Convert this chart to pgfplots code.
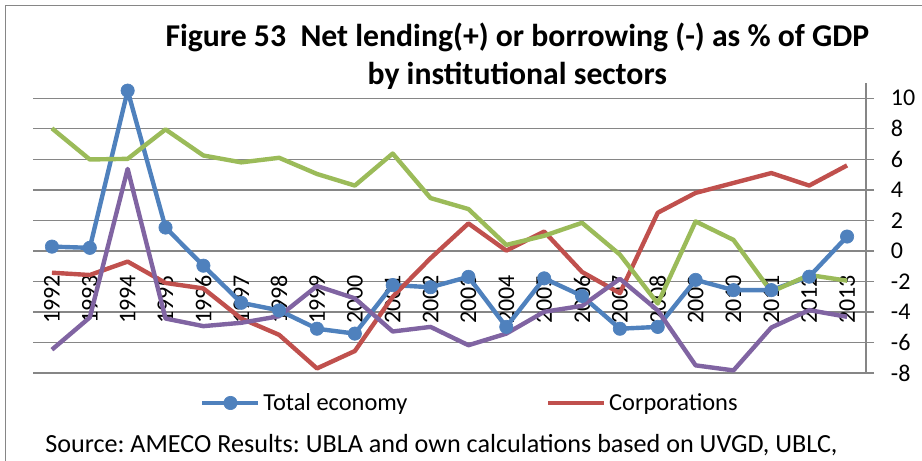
\documentclass[border=0pt]{standalone}
\usepackage{pgfplots}
\pgfplotsset{compat=1.18}
\usepackage{pgfplotstable}
\usepackage{fontspec}
\setmainfont{Carlito}

\definecolor{totblue}{HTML}{4F81BD}
\definecolor{corpred}{HTML}{C0504D}
\definecolor{govgreen}{HTML}{9BBB59}
\definecolor{hhpurple}{HTML}{8064A2}
\definecolor{gridgray}{HTML}{868686}

% net lending(+)/borrowing(-), % of GDP
\pgfplotstableread{
idx year total corp gov hh
0  1992  0.28 -1.43  8.03 -6.47
1  1993  0.20 -1.58  5.99 -4.36
2  1994 10.50 -0.70  6.03  5.37
3  1995  1.53 -2.10  7.96 -4.43
4  1996 -0.97 -2.46  6.25 -4.93
5  1997 -3.40 -4.43  5.80 -4.71
6  1998 -3.90 -5.50  6.10 -4.28
7  1999 -5.10 -7.70  5.04 -2.30
8  2000 -5.42 -6.56  4.28 -3.11
9  2001 -2.24 -3.00  6.38 -5.28
10 2002 -2.38 -0.48  3.46 -4.98
11 2003 -1.70  1.80  2.74 -6.18
12 2004 -4.98  0.02  0.39 -5.42
13 2005 -1.80  1.27  0.99 -3.99
14 2006 -2.95 -1.38  1.84 -3.60
15 2007 -5.10 -2.77 -0.24 -1.83
16 2008 -4.98  2.50 -3.45 -3.90
17 2009 -1.90  3.80  1.93 -7.50
18 2010 -2.57  4.45  0.72 -7.83
19 2011 -2.57  5.10 -2.68 -5.02
20 2012 -1.69  4.28 -1.58 -3.88
21 2013  0.94  5.60 -1.95 -4.32
}\sectors

\begin{document}
\frenchspacing
\begin{tikzpicture}
\useasboundingbox (0,0) rectangle (691.5pt,345.75pt);
% chart frame (cut off at right and bottom)
\draw[gridgray, line width=0.75pt] (3.75pt,-20pt) -- (3.75pt,341.25pt) -- (720pt,341.25pt);

\node[anchor=base, font=\bfseries\fontsize{23.8}{28}\selectfont] at (388pt,310.5pt)
  {Figure 53\ \ Net lending(+) or borrowing (-) as \% of GDP};
\node[anchor=base, font=\bfseries\fontsize{23.8}{28}\selectfont] at (388pt,282pt)
  {by institutional sectors};

\begin{axis}[
    at={(24.75pt,66pt)}, anchor=south west,
    scale only axis,
    width=624.75pt, height=217.5pt,
    xmin=-0.5, xmax=21.5,
    ymin=-8, ymax=11,
    axis x line=middle,
    axis y line=right,
    axis line style={-, gridgray, line width=1pt},
    inner axis line style={-},
    outer axis line style={-},
    xtick={0,...,21},
    xticklabels={1992,1993,1994,1995,1996,1997,1998,1999,2000,2001,2002,2003,2004,2005,2006,2007,2008,2009,2010,2011,2012,2013},
    x tick style={draw=none},
    extra x ticks={-0.5,0.5,...,21.5},
    extra x tick labels={},
    extra x tick style={tick style={draw=gridgray, line width=1pt}, xtick align=outside, major tick length=5.5pt},
    xticklabel style={rotate=90, anchor=east, inner xsep=15pt, font=\fontsize{18}{21}\selectfont},
    ytick={-8,-6,...,10},
    yticklabels={-8,-6,-4,-2,0,2,4,6,8,10},
    ytick align=outside,
    y tick style={gridgray, line width=1pt},
    major tick length=6pt,
    yticklabel style={anchor=west, inner sep=0pt, xshift=12.5pt, font=\fontsize{18}{21}\selectfont},
    ymajorgrids,
    grid style={gridgray, line width=1pt},
    legend columns=2,
    legend style={at={(0.2005,-0.1034)}, anchor=west, draw=none, fill=none,
        inner sep=0pt, font=\fontsize{18.3}{21}\selectfont,
        /tikz/every even column/.append style={column sep=102pt}},
    legend cell align=left,
    legend image code/.code={
        \draw[mark repeat=2, mark phase=2, #1] plot coordinates {(0pt,0pt) (21pt,0pt) (42pt,0pt)};
    },
    every axis plot/.append style={line width=3.3pt, line join=round},
]
\addplot[totblue, mark=*, mark size=5pt, mark options={line width=0.5pt, fill=totblue}] table[x=idx, y=total] {\sectors};
\addlegendentry{Total economy}
\addplot[corpred, mark=none] table[x=idx, y=corp] {\sectors};
\addlegendentry{Corporations}
\addplot[govgreen, mark=none, forget plot] table[x=idx, y=gov] {\sectors};
\addplot[hhpurple, mark=none, forget plot] table[x=idx, y=hh] {\sectors};
\end{axis}

\node[anchor=base west, inner sep=0pt, font=\fontsize{19.6}{24}\selectfont] at (33.75pt,6.2pt)
  {Source: AMECO Results: UBLA and own calculations based on UVGD, UBLC,};
\end{tikzpicture}
\end{document}
